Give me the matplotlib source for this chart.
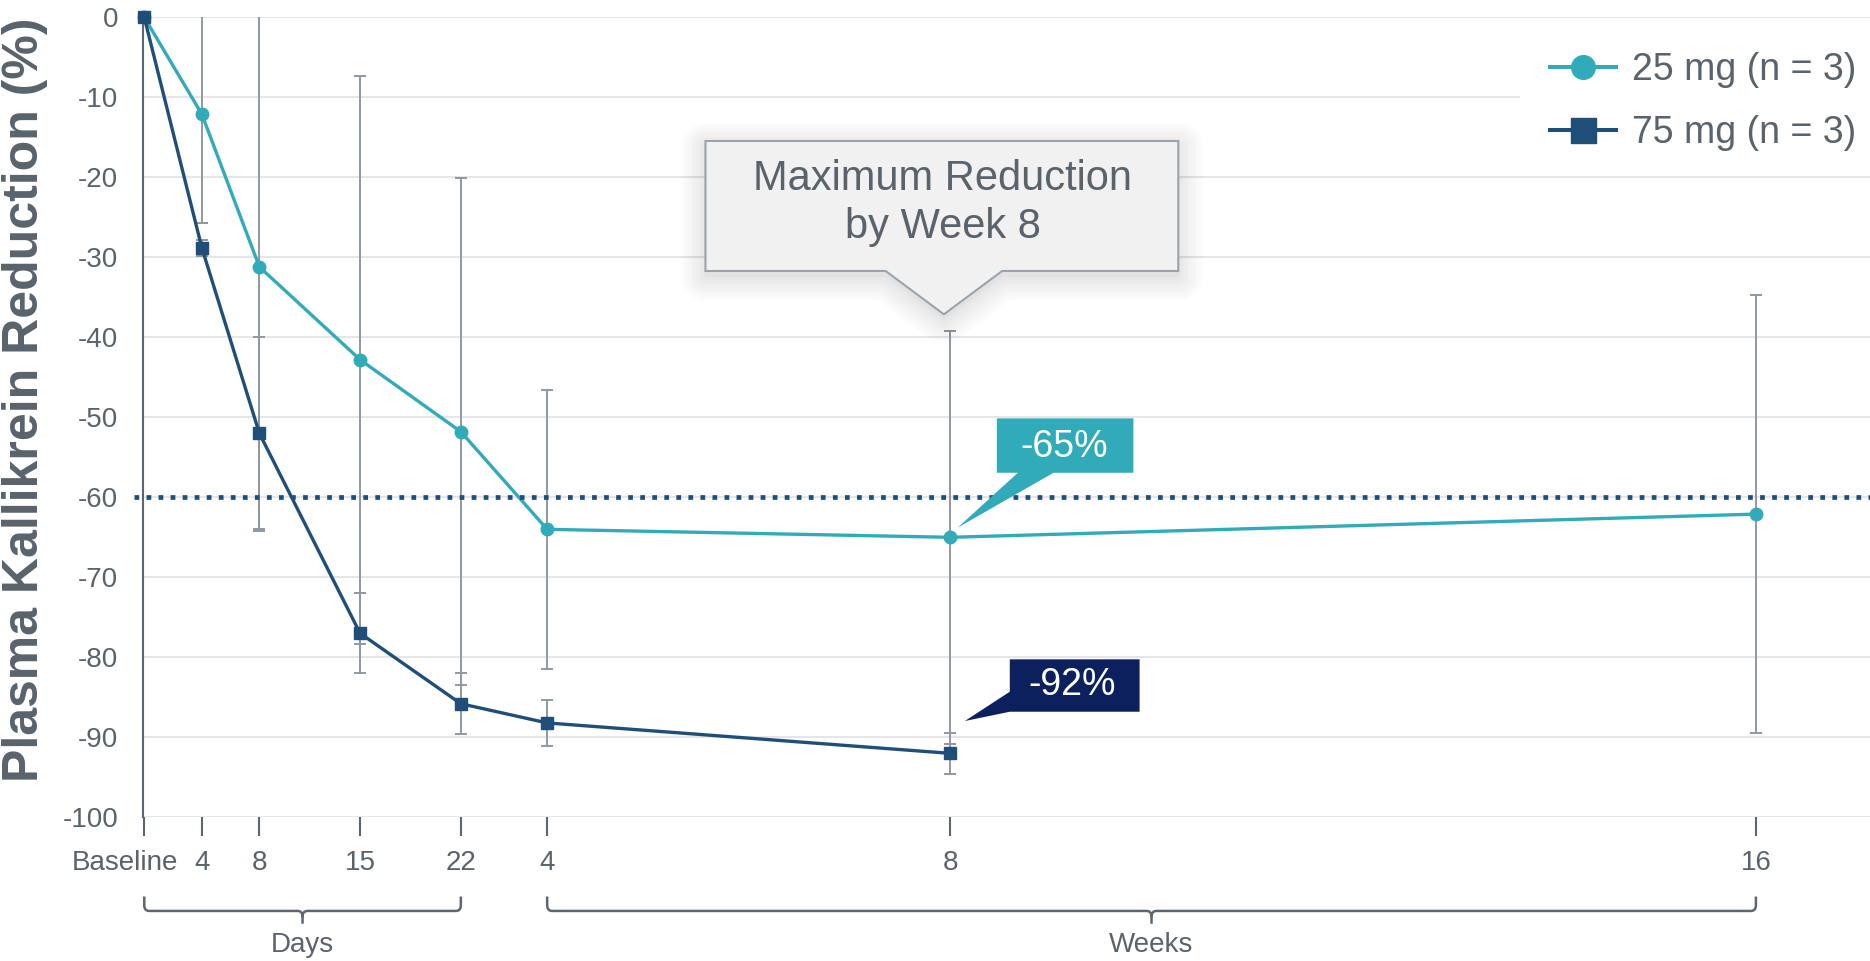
import matplotlib.pyplot as plt
import matplotlib.patheffects as pe
import matplotlib.transforms as mtransforms
from matplotlib.lines import Line2D
from matplotlib.path import Path
from matplotlib.patches import PathPatch, Polygon, Rectangle

plt.rcParams['font.family'] = ['Liberation Sans', 'DejaVu Sans']
plt.rcParams['axes.unicode_minus'] = False

# Visit times in days since baseline (weeks 4, 8 and 16 converted to days)
days = [0, 4, 8, 15, 22, 28, 56, 112]
tick_labels = ['Baseline', '4', '8', '15', '22', '4', '8', '16']

# Mean % change in plasma kallikrein and its spread, per dose group
pk_25mg = [0, -12.1, -31.2, -42.8, -51.8, -64.0, -65, -62.1]
sd_25mg = [0, 13.6, 33.0, 35.5, 31.7, 17.4, 25.8, 27.4]
pk_75mg = [0, -28.8, -52.0, -77.0, -85.8, -88.2, -92]
sd_75mg = [0, 1.0, 12.0, 5.0, 3.8, 2.9, 2.6]
days_75mg = days[:len(pk_75mg)]

labels = ['25 mg (n = 3)', '75 mg (n = 3)']
threshold = -60

teal = '#31abb9'
navy = '#1f4e79'
dark_navy = '#0c205e'
text_gray = '#59636b'
axis_gray = '#5b6670'
bar_gray = '#8f98a2'
grid_gray = '#e4e6e8'

fig = plt.figure(figsize=(18.7, 9.61), dpi=100)
ax = fig.add_axes([0.0763, 0.1495, 0.9237, 0.8325])

ax.set_xlim(-0.11, 119.93)
ax.set_ylim(-100, 0)

# error bars first so the lines and markers sit on top
ax.errorbar(days, pk_25mg, yerr=sd_25mg, fmt='none', ecolor=bar_gray,
            elinewidth=1.4, capsize=4.3, capthick=1.4, zorder=2)
ax.errorbar(days_75mg, pk_75mg, yerr=sd_75mg, fmt='none', ecolor=bar_gray,
            elinewidth=1.4, capsize=4.3, capthick=1.4, zorder=2)

ax.plot(days, pk_25mg, color=teal, lw=2.4, marker='o', ms=9,
        clip_on=False, zorder=4)
ax.plot(days_75mg, pk_75mg, color=navy, lw=2.4, marker='s', ms=9,
        clip_on=False, zorder=5)

# 60% reduction reference line
ax.axhline(threshold, xmin=-0.005, xmax=1, color=navy, lw=3.4,
           linestyle=(0, (1, 1.55)), dash_capstyle='butt', clip_on=False,
           zorder=6)

# axes styling
ax.set_yticks(range(0, -101, -10))
ax.yaxis.grid(True, color=grid_gray, lw=1.5, zorder=0)
ax.set_axisbelow(True)
for side in ['top', 'right', 'bottom']:
    ax.spines[side].set_visible(False)
ax.spines['left'].set_color(axis_gray)
ax.spines['left'].set_linewidth(1.5)
ax.tick_params(axis='y', length=0, pad=17.6, labelsize=20, labelcolor=text_gray)
ax.set_xticks(days)
ax.set_xticklabels(tick_labels)
ax.tick_params(axis='x', length=13.7, width=1.5, color=axis_gray, pad=10,
               labelsize=20, labelcolor=text_gray)
base_lbl = ax.get_xticklabels()[0]
base_lbl.set_transform(base_lbl.get_transform() +
                       mtransforms.ScaledTranslation(-0.19, 0, fig.dpi_scale_trans))

fig.text(25 / 1870, 1 - 400 / 961, 'Plasma Kallikrein Reduction (%)',
         rotation=90, ha='center', va='center', fontsize=36,
         fontweight='bold', color=text_gray)

# Days / Weeks brackets under the tick labels
trans = mtransforms.blended_transform_factory(ax.transData, ax.transAxes)


def bracket(x0, x1, text):
    y_top, y_h, y_tip = -0.099, -0.117, -0.133
    rx, ry = 0.35, 0.007
    xc = (x0 + x1) / 2
    verts = [(x0, y_top), (x0, y_h + ry), (x0, y_h), (x0 + rx, y_h),
             (xc - rx, y_h), (xc, y_h), (xc, y_h - ry), (xc, y_tip),
             (xc, y_h - ry), (xc, y_h), (xc + rx, y_h),
             (x1 - rx, y_h), (x1, y_h), (x1, y_h + ry), (x1, y_top)]
    codes = [Path.MOVETO, Path.LINETO, Path.CURVE3, Path.CURVE3,
             Path.LINETO, Path.CURVE3, Path.CURVE3, Path.LINETO,
             Path.MOVETO, Path.CURVE3, Path.CURVE3,
             Path.LINETO, Path.CURVE3, Path.CURVE3, Path.LINETO]
    ax.add_patch(PathPatch(Path(verts, codes), transform=trans, fill=False,
                           edgecolor=axis_gray, lw=1.8, clip_on=False))
    ax.text(xc, -0.160, text, transform=trans, ha='center', va='center',
            fontsize=20, color=text_gray)


bracket(days[0], days[4], 'Days')
bracket(days[5], days[7], 'Weeks')

# "Maximum Reduction by Week 8" callout with a soft shadow
shadow = [pe.Stroke(linewidth=w, foreground='black', alpha=0.009,
                    offset=(0, -4), joinstyle='round')
          for w in range(36, 2, -3)] + [pe.Normal()]
callout = Polygon([(39.0, -15.46), (71.86, -15.46), (71.86, -31.71),
                   (59.62, -31.71), (55.57, -37.13), (51.52, -31.71),
                   (39.0, -31.71)],
                  closed=True, facecolor='#f1f1f1', edgecolor='#9aa2ab',
                  lw=1.5, zorder=7, path_effects=shadow)
ax.add_patch(callout)
ax.text(55.5, -23.2, 'Maximum Reduction\nby Week 8', ha='center', va='center',
        fontsize=30, color=text_gray, linespacing=1.25, zorder=8)

# value labels at week 8
x8, y25, y75 = days[6], pk_25mg[6], pk_75mg[6]
ax.add_patch(Polygon([(x8 + 3.25, y25 + 14.87), (x8 + 12.74, y25 + 14.87),
                      (x8 + 12.74, y25 + 8.07), (x8 + 7.19, y25 + 8.07),
                      (x8 + 0.52, y25 + 1.2), (x8 + 4.71, y25 + 8.07),
                      (x8 + 3.25, y25 + 8.07)],
                     closed=True, facecolor=teal, edgecolor='none', zorder=9))
ax.text(x8 + 7.9, y25 + 11.3, f'{y25:.0f}%', ha='center', va='center',
        fontsize=27, color='white', zorder=10)
ax.add_patch(Polygon([(x8 + 4.15, y75 + 11.75), (x8 + 13.17, y75 + 11.75),
                      (x8 + 13.17, y75 + 5.2), (x8 + 4.15, y75 + 5.2),
                      (x8 + 1.03, y75 + 4.04), (x8 + 4.15, y75 + 7.7)],
                     closed=True, facecolor=dark_navy, edgecolor='none', zorder=9))
ax.text(x8 + 8.5, y75 + 8.5, f'{y75:.0f}%', ha='center', va='center',
        fontsize=27, color='white', zorder=10)

# legend on a white panel that hides the grid behind it
fig.add_artist(Rectangle((1520 / 1870, 1 - 176 / 961), 350 / 1870, 157 / 961,
                         transform=fig.transFigure, facecolor='white',
                         edgecolor='none', zorder=1))
handles = [Line2D([], [], color=teal, lw=2.9, marker='o', ms=17),
           Line2D([], [], color=navy, lw=2.9, marker='s', ms=18)]
leg = fig.legend(handles, labels, loc='center left',
                 bbox_to_anchor=(1550 / 1870, 1 - 101.5 / 961), frameon=False,
                 fontsize=27, handlelength=1.75, handletextpad=0.45,
                 labelspacing=0.71, borderpad=0, borderaxespad=0)
leg.set_zorder(5)
for t in leg.get_texts():
    t.set_color(text_gray)

fig.savefig('out.png', dpi=100, facecolor='white')
